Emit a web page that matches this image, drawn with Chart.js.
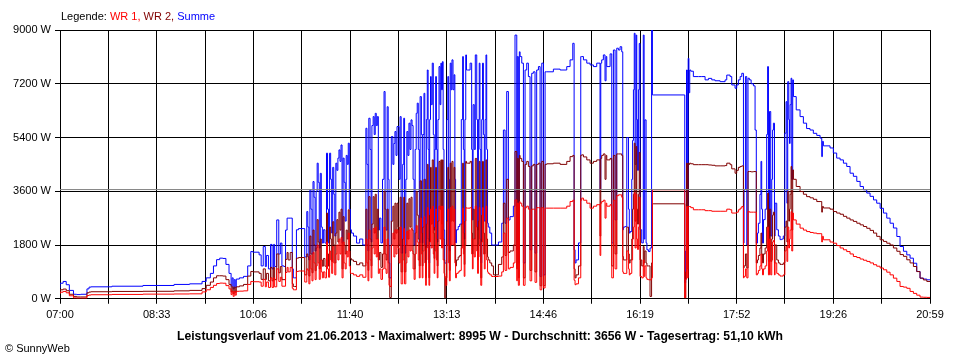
<!DOCTYPE html>
<html>
<head>
<meta charset="utf-8">
<script src="https://cdn.jsdelivr.net/npm/chart.js@4.4.1/dist/chart.umd.min.js"></script>
<style>
  body { margin: 0; background: #fff; }
  #wrap { position: relative; width: 960px; height: 360px; font-family: 'Liberation Sans', Arial, sans-serif; font-size: 11px; }
  #chart { position: absolute; left: 0; top: 0; }
  #legend { position: absolute; left: 61px; top: 10px; color: #000; white-space: nowrap; }
  #copy { position: absolute; left: 5px; top: 342px; color: #000; white-space: nowrap; }
</style>
</head>
<body>
<div id="wrap">
  <canvas id="chart" width="960" height="360"></canvas>
  <div id="legend">Legende: <span style="color:#ff0000">WR 1,</span> <span style="color:#800000">WR 2,</span> <span style="color:#0000ff">Summe</span></div>
  <div id="copy">&copy; SunnyWeb</div>
</div>
<script>
'use strict';

// DATA - minutes after 07:00, values in W
var tickLabels = ['07:00', '08:33', '10:06', '11:40', '13:13', '14:46', '16:19', '17:52', '19:26', '20:59'];
var dayLength = 839; // 07:00 .. 20:59
var average = 3656;
var titleText = 'Leistungsverlauf vom 21.06.2013 - Maximalwert: 8995 W - Durchschnitt: 3656 W - Tagesertrag: 51,10 kWh';

var minutes = [
  // morning
  0, 3, 6, 9, 13, 16, 20, 26, 28, 30, 50, 80, 110, 125, 137, 141, 145, 148, 151, 154, 157, 160, 163, 165, 166, 167, 168, 169, 170, 173, 177, 181, 184, 186,
  // 10:06 - 10:56
  192, 194, 196, 198, 199, 201, 203, 204.5, 206, 207, 209, 211, 212.5, 214, 216, 217.5, 219, 220, 222, 224, 225, 226, 228, 230, 236,
  // 10:58 - 11:55
  238, 239, 240, 241, 242, 243, 244, 245, 246, 247, 248, 249, 250, 251, 252, 253, 254, 255.5, 257, 258, 259, 260, 261, 262, 263, 264, 265, 266, 267, 268, 269, 270, 271, 272, 273, 274, 275, 276, 277, 278, 279, 280, 281, 283, 286, 289, 292, 295,
  // 11:56 - 12:20
  296, 297, 297.8, 299, 300, 300.8, 302, 303, 304, 305, 306, 307, 308, 309.5, 311, 312.5, 313.5, 314.5, 315.5, 316.5, 317.3, 318, 319.5,
  // 12:21 - 13:36
  321, 322, 323, 324, 325, 326, 327, 328, 329, 330.5, 331.5, 332.3, 333.5, 334.5, 335.5, 336.5, 337.5, 338.5, 339.5, 340.5, 341.5, 342.5, 343.5, 344.5, 345.5, 346.5, 347.3, 348.5, 349.3, 350, 351, 351.8, 352.6, 353.3, 354.2, 355, 355.8, 356.5, 357.3, 358, 359, 360, 360.8, 361.5, 362.3, 363, 363.8, 364.5, 365.5, 366.5, 367.3, 368, 368.8, 369.5, 370.3, 371, 372, 373, 374, 374.8, 375.5, 376.3, 377.2, 378, 379, 380, 380.8, 381.5, 382.3, 384, 385.5, 387, 388.3, 389, 389.8, 390.5, 391.3, 392, 393, 395.5,
  // 13:37 - 13:56
  397, 397.7, 398.4, 399.5, 400.5, 401.9, 402.7, 403.5, 404.3, 405, 405.8, 406.7, 407.5, 408.3, 409.2, 410, 410.8, 411.5, 412.3, 413, 414.5, 416.3,
  // 13:58 - 16:03
  418, 422.8, 426, 427.6, 429.2, 430.8, 432.4, 434, 437.2, 438.8, 440.5, 441, 442, 443, 443.7, 445.3, 446.9, 448.5, 450.1, 451.7, 453.3, 454.9, 456.5, 458.1, 459.7, 461.4, 463, 464.6, 466.2, 467.8, 469.4, 475.8, 482.3, 488.7, 491.9, 494.5, 495.8, 496.7, 497.7, 500, 502.2, 503.1, 504.8, 508, 511.2, 514.4, 517.6, 520.8, 521.5, 522.4, 524, 525.6, 526.6, 527.3, 530.5, 532.1, 533.7, 535.3, 536.9, 538.5, 540.1, 541.7, 542.7,
  // 16:03 - 16:31
  543.3, 545, 546.6, 548.2, 549, 549.8, 551.4, 552.2, 553, 553.8, 554.6, 555.6, 556.2, 557, 557.8, 558.6, 559.4, 561, 562.5, 563.3, 564, 565.2, 566, 567.5, 569, 570.5, 571.3,
  // 16:32 - 18:10
  572, 602.5, 603.4, 604.2, 605, 605.8, 606.5, 607.3, 608.3, 610.8, 615.7, 618.9, 622.1, 625.3, 628.5, 631.7, 636.6, 641.4, 643, 646.2, 647.8, 651, 652.6, 654.2, 655.9, 657.5, 659.1, 659.7, 661, 662.3, 663.5, 664.8, 666.5, 668.7, 670.3,
  // 18:11 - 18:47
  671.5, 672.6, 673.5, 675, 676, 676.7, 677.5, 678.4, 680, 681.5, 682.4, 683.2, 684.2, 685.4, 686.4, 687.2, 688, 689, 689.6, 691.2, 692.8, 694.4, 696, 697.5, 699, 700.2, 701, 701.8, 702.8, 703.5, 704.1, 705, 705.7, 706.6, 707.3,
  // evening
  710, 713.7, 716.9, 720, 723.3, 726.5, 729.8, 733, 734.6, 735.2, 736.2, 742.6, 745.8, 749, 752.3, 755.5, 758.7, 761.9, 765.1, 768.4, 771.6, 774.8, 778, 781.2, 784.5, 787.6, 790.9, 794.1, 797.3, 800.5, 803.7, 807, 810.1, 813.4, 816.6, 819.8, 823, 826.2, 829.4, 832.6, 835.9, 839
];

var summe = [
  360, 520, 580, 470, 280, 150, 140, 150, 330, 390, 400, 420, 445, 480, 500, 580, 700, 850, 1100, 1310, 1360, 1350, 1150, 850, 420, 700, 330, 640, 380, 660, 700, 750, 1100, 1580,
  1560, 1470, 1100, 1750, 1080, 1450, 1000, 1820, 1000, 1820, 1080, 2640, 1500, 1865, 1100, 1080, 2300, 2700, 2700, 2700, 1000, 700, 700, 2310, 2350,
  1400, 2920, 2400, 1300, 3650, 3000, 1500, 3925, 3400, 1600, 3600, 4540, 3900, 1700, 4200, 2400, 1865, 2310, 1865, 4875, 3000, 1865, 4875, 4000, 2200, 4400, 3500, 2100, 4540, 4300, 4710, 4985, 4600, 5150, 1865, 4710, 3900, 2600, 4800, 4500, 5210, 3000, 2310, 2200, 2100, 1865, 2000, 1800,
  5710, 4500, 1600, 6045, 5000, 1900, 5800, 6100, 5500, 6210, 5800, 6100, 2300, 2700, 1870, 4000, 6940, 3000, 2300, 6430, 4000, 1195, 700,
  5430, 4500, 5200, 5600, 4800, 5765, 5765, 4000, 6100, 1530, 4500, 6045, 1530, 4000, 5600, 4800, 5880, 5000, 5990, 5800, 4000, 1800, 5000, 6210, 6550, 5000, 1870, 6770, 5500, 1870, 5500, 6880, 4000, 1195, 6000, 7660, 5000, 1195, 6000, 7440, 6500, 7890, 5500, 2300, 5000, 7440, 5000, 1900, 6000, 7775, 6500, 7890, 7000, 7940, 5000, 2300, 1195, 1195, 6000, 7440, 4000, 1600, 7890, 7000, 8000, 7000, 7500, 4000, 1870, 2310, 2420, 2500, 6000, 8110, 5000, 2000, 6000, 8165, 7660, 7660,
  7890, 5000, 2640, 6500, 5000, 8165, 6000, 2300, 6000, 7890, 5000, 1200, 6000, 7890, 5500, 2600, 6000, 8165, 5000, 2530, 2400, 2200,
  1800, 1800, 1900, 2530, 5650, 2530, 6940, 2640, 2750, 3100, 8830, 1640, 8110, 1200, 8270, 8110, 7890, 1200, 7660, 7890, 7440, 1640, 7550, 7600, 1530, 7660, 7775, 745, 7890, 800, 7600, 7600, 7690, 7660, 7775, 8000, 8555, 1640, 1200, 1300, 1870, 8110, 8110, 8000, 7890, 7830, 7775, 7890, 3650, 7890, 8000, 8165, 7300, 8110, 7775, 8200, 1870, 8330, 2640, 8390, 8330, 8440, 8270,
  2310, 2400, 2420, 5400, 3000, 2200, 2250, 4000, 5300, 7000, 8890, 4500, 8830, 6000, 4300, 7000, 8550, 2310, 1870, 8830, 2000, 5990, 1870, 1640, 1580, 1700, 9000,
  6825, 6825, 535, 1600, 7660, 1870, 8050, 6900, 7660, 7620, 7440, 7440, 7440, 7330, 7380, 7330, 7300, 7270, 7330, 7490, 7440, 7160, 7050, 7160, 7330, 7440, 7550, 1865, 3650, 7440, 1800, 7385, 7330, 7200, 7130,
  5650, 1865, 2200, 2530, 3500, 4600, 3000, 1865, 2650, 3000, 5500, 7775, 2100, 6270, 2100, 4000, 5650, 5880, 2100, 3200, 2310, 2100, 1980, 2000, 2100, 5545, 6600, 3200, 7270, 6000, 5200, 6500, 7385, 4000, 7330,
  6770, 6325, 6100, 5880, 5700, 5650, 5540, 5470, 5380, 4760, 5270, 5120, 5050, 4880, 4710, 4650, 4540, 4430, 4205, 4100, 3930, 3760, 3650, 3540, 3430, 3310, 3200, 3030, 2870, 2700, 2530, 2370, 2085, 1750, 1590, 1470, 1360, 1190, 914, 690, 660, 635
];

var wr2 = [
  220, 300, 325, 270, 150, 80, 60, 60, 200, 225, 235, 245, 250, 265, 280, 340, 450, 560, 700, 770, 770, 760, 640, 480, 230, 400, 170, 390, 220, 400, 430, 480, 760, 914,
  900, 850, 650, 1000, 640, 850, 600, 1050, 600, 1050, 640, 1500, 870, 1080, 640, 640, 1320, 1550, 1300, 1550, 500, 410, 410, 1360, 1380,
  800, 1500, 1400, 760, 2100, 1500, 870, 2300, 1800, 940, 1700, 2650, 1900, 1000, 2000, 1300, 1090, 1350, 1090, 2870, 1500, 1090, 2400, 2000, 1250, 2580, 1800, 1200, 2200, 2650, 1900, 2900, 2300, 3000, 1000, 2750, 1800, 1500, 2300, 2000, 2980, 1600, 1350, 1300, 1250, 1140, 1200, 1100,
  3000, 1800, 950, 3420, 2000, 1100, 2500, 3420, 2200, 3500, 2000, 3000, 1300, 1550, 1050, 1500, 3600, 1500, 1300, 3000, 1800, 700, 40,
  2600, 3100, 2000, 3200, 2200, 3200, 2400, 1800, 3400, 900, 2000, 3400, 900, 1800, 3200, 2000, 3350, 2400, 3400, 2300, 1500, 1000, 2200, 3600, 2800, 2000, 1100, 3950, 2200, 1100, 2400, 4000, 1800, 700, 2500, 4500, 2000, 700, 2800, 4400, 2500, 4650, 2200, 1350, 2400, 4400, 2000, 1100, 2600, 4600, 3000, 4650, 2500, 4650, 2000, 1300, 30, 700, 2600, 4400, 1800, 950, 4540, 2600, 4600, 2600, 4400, 1800, 1100, 1300, 1400, 1450, 2500, 4540, 2200, 1150, 2600, 4600, 4540, 4540,
  4600, 2200, 1500, 3000, 2000, 4700, 2400, 1300, 2600, 4600, 2000, 700, 2800, 4600, 2200, 1500, 2600, 4650, 2000, 1400, 1300, 1200,
  1100, 800, 1150, 1400, 3200, 1450, 4000, 1550, 1600, 1800, 4930, 1000, 4700, 700, 4800, 4700, 4600, 700, 4500, 4600, 4430, 950, 4450, 4500, 900, 4500, 4540, 435, 4600, 435, 4500, 4520, 4540, 4500, 4600, 4760, 4800, 1000, 700, 800, 1100, 4800, 4820, 4750, 4650, 4540, 4600, 4650, 2100, 4700, 4800, 4850, 4000, 4800, 4650, 4700, 1100, 4800, 1500, 4850, 4850, 4850, 4800,
  1415, 1300, 1300, 2400, 1500, 1195, 1300, 2000, 3000, 3500, 5210, 2600, 5100, 3000, 2500, 3500, 4900, 1300, 1100, 1750, 1200, 1600, 1195, 1100, 1100, 78, 1200,
  3180, 3180, 30, 900, 4540, 1000, 4540, 4500, 4540, 4520, 4490, 4490, 4490, 4490, 4480, 4470, 4450, 4450, 4460, 4540, 4490, 4350, 4205, 4300, 4400, 4430, 4450, 1030, 1100, 1500, 1030, 4260, 4260, 4250, 4260,
  4260, 1200, 1300, 1450, 1700, 2200, 1500, 1200, 1500, 1700, 2400, 3540, 1250, 3000, 1250, 2000, 2800, 2900, 1200, 1800, 1300, 1200, 1150, 1150, 1200, 2400, 2600, 1900, 3600, 2600, 3000, 3500, 4430, 2300, 4315,
  4000, 3760, 3590, 3500, 3420, 3380, 3330, 3255, 3255, 2900, 3090, 3040, 3000, 2920, 2870, 2830, 2760, 2700, 2640, 2590, 2530, 2475, 2420, 2360, 2290, 2200, 2090, 1975, 1920, 1860, 1800, 1700, 1590, 1480, 1420, 1305, 1200, 1080, 910, 690, 630, 580
];

var wr1 = [
  160, 220, 245, 200, 100, 30, 22, 22, 110, 125, 135, 145, 155, 160, 165, 230, 300, 380, 450, 510, 525, 520, 440, 330, 140, 250, 80, 245, 120, 250, 255, 265, 480, 580,
  570, 560, 420, 650, 400, 560, 380, 700, 380, 700, 400, 1000, 580, 720, 420, 420, 880, 1050, 900, 1050, 350, 300, 300, 914, 930,
  560, 1000, 950, 500, 1450, 1000, 600, 1550, 1200, 640, 1100, 1800, 1200, 650, 1300, 900, 700, 900, 700, 1900, 1000, 720, 1600, 1300, 850, 1750, 1200, 800, 1500, 1800, 1300, 2000, 1500, 2050, 700, 1900, 1200, 1000, 1600, 1400, 2200, 1100, 850, 850, 800, 750, 800, 720,
  2000, 1200, 600, 2300, 1300, 700, 1700, 2350, 1500, 2400, 1400, 2000, 850, 1000, 650, 1000, 2400, 1000, 850, 2000, 1200, 450, 410,
  1800, 2200, 1400, 2310, 1500, 2310, 1700, 1200, 2400, 500, 1300, 2350, 500, 1200, 2250, 1400, 2300, 1600, 2350, 1600, 1000, 650, 1500, 2450, 1900, 1300, 700, 2700, 1500, 700, 1600, 2750, 1200, 450, 1700, 3050, 1300, 450, 1900, 3000, 1700, 3090, 1500, 850, 1600, 3000, 1300, 700, 1800, 3100, 2000, 3100, 1700, 3100, 1300, 850, 740, 450, 1800, 3000, 1200, 600, 3050, 1800, 3100, 1800, 3000, 1200, 700, 850, 900, 950, 1700, 3035, 1500, 750, 1800, 3050, 3035, 3035,
  3050, 1500, 1000, 2000, 1400, 3100, 1600, 850, 1800, 3050, 1400, 450, 1900, 3050, 1500, 1000, 1800, 3100, 1300, 900, 850, 800,
  745, 745, 760, 900, 2200, 950, 2700, 1000, 1050, 1200, 3310, 600, 3200, 450, 3250, 3200, 3100, 450, 3050, 3100, 3000, 600, 3000, 3000, 550, 3050, 3050, 300, 3050, 360, 3035, 3035, 3035, 3035, 3100, 3255, 3300, 620, 470, 500, 700, 3300, 3370, 3300, 3200, 3035, 3100, 3150, 1450, 3200, 3255, 3300, 2700, 3200, 3100, 3150, 700, 3300, 1000, 3450, 3480, 3480, 3400,
  900, 850, 850, 1600, 1000, 800, 850, 1300, 2000, 2400, 3550, 1700, 3500, 2000, 1650, 2400, 3400, 746, 700, 1300, 750, 1100, 700, 650, 635, 635, 700,
  3650, 3650, 30, 650, 3090, 700, 3090, 3090, 3090, 3050, 2980, 2980, 2980, 2950, 2950, 2930, 2930, 2930, 2930, 3000, 2980, 2870, 2870, 2900, 2980, 3035, 3090, 700, 750, 1000, 700, 2920, 2900, 2900, 2900,
  2900, 800, 850, 950, 1100, 1500, 1000, 800, 1000, 1100, 1600, 2400, 800, 2000, 800, 1300, 1900, 1950, 800, 1200, 850, 800, 760, 760, 800, 1600, 1750, 1250, 2400, 1700, 2000, 2300, 2920, 1600, 2870,
  2640, 2500, 2365, 2300, 2250, 2220, 2200, 2180, 2180, 1900, 2090, 1975, 1900, 1860, 1780, 1700, 1640, 1580, 1500, 1415, 1380, 1330, 1290, 1250, 1200, 1140, 1090, 1030, 970, 890, 800, 690, 580, 412, 390, 350, 245, 180, 120, 56, 50, 45
];

function toPoints(values) {
  var points = [];
  for (var i = 0; i < minutes.length; i++) {
    points.push({ x: minutes[i], y: values[i] });
  }
  return points;
}

Chart.defaults.font.family = "'Liberation Sans', Arial, sans-serif";
Chart.defaults.font.size = 11;
Chart.defaults.color = '#000';

var ctx = document.getElementById('chart');
var myChart = new Chart(ctx, {
  type: 'line',
  data: {
    datasets: [
      {
        label: 'Durchschnitt',
        data: [{ x: 0, y: average }, { x: dayLength, y: average }],
        borderColor: '#808080',
        borderWidth: 1,
        yAxisID: 'y'
      },
      {
        label: 'WR 1',
        data: toPoints(wr1),
        borderColor: '#ff0000',
        borderWidth: 1,
        stepped: 'after',
        yAxisID: 'y'
      },
      {
        label: 'WR 2',
        data: toPoints(wr2),
        borderColor: '#800000',
        borderWidth: 1,
        stepped: 'after',
        yAxisID: 'y'
      },
      {
        label: 'Summe',
        data: toPoints(summe),
        borderColor: '#0000ff',
        borderWidth: 1,
        stepped: 'after',
        yAxisID: 'y'
      }
    ]
  },
  options: {
    responsive: false,
    animation: false,
    devicePixelRatio: 1,
    events: [],
    elements: { point: { radius: 0 }, line: { tension: 0 } },
    layout: { padding: { left: 0, right: 0, top: 30, bottom: 0 } },
    plugins: {
      legend: { display: false },
      tooltip: { enabled: false },
      title: {
        display: true,
        position: 'bottom',
        text: titleText,
        font: { size: 12.2, weight: 'bold' },
        color: '#000',
        padding: { top: 3, bottom: 15.6 }
      }
    },
    scales: {
      x: {
        type: 'linear',
        min: 0,
        max: dayLength,
        afterBuildTicks: function (scale) {
          var ticks = [];
          var steps = (tickLabels.length - 1) * 2;
          for (var i = 0; i <= steps; i++) {
            ticks.push({ value: i * dayLength / steps });
          }
          scale.ticks = ticks;
        },
        afterFit: function (scale) { scale.height = 28; },
        grid: { color: '#000', lineWidth: 1, tickLength: 5, tickColor: '#000' },
        border: { color: '#000' },
        ticks: {
          autoSkip: false,
          maxRotation: 0,
          padding: 5,
          callback: function (value, index) {
            return index % 2 === 0 ? tickLabels[index / 2] : '';
          }
        }
      },
      y: {
        min: 0,
        max: 9000,
        afterFit: function (scale) { scale.width = 60; },
        grid: { color: '#000', lineWidth: 1, tickLength: 5, tickColor: '#000' },
        border: { color: '#000' },
        ticks: {
          stepSize: 1800,
          padding: 4,
          callback: function (value) { return value + ' W'; }
        }
      },
      // empty axis on the right, keeps the plot edge where the original has it
      pad: {
        type: 'linear',
        position: 'right',
        afterFit: function (scale) { scale.width = 30; },
        grid: { display: false, drawTicks: false },
        border: { display: false },
        ticks: { display: false }
      }
    }
  }
});
</script>
</body>
</html>
